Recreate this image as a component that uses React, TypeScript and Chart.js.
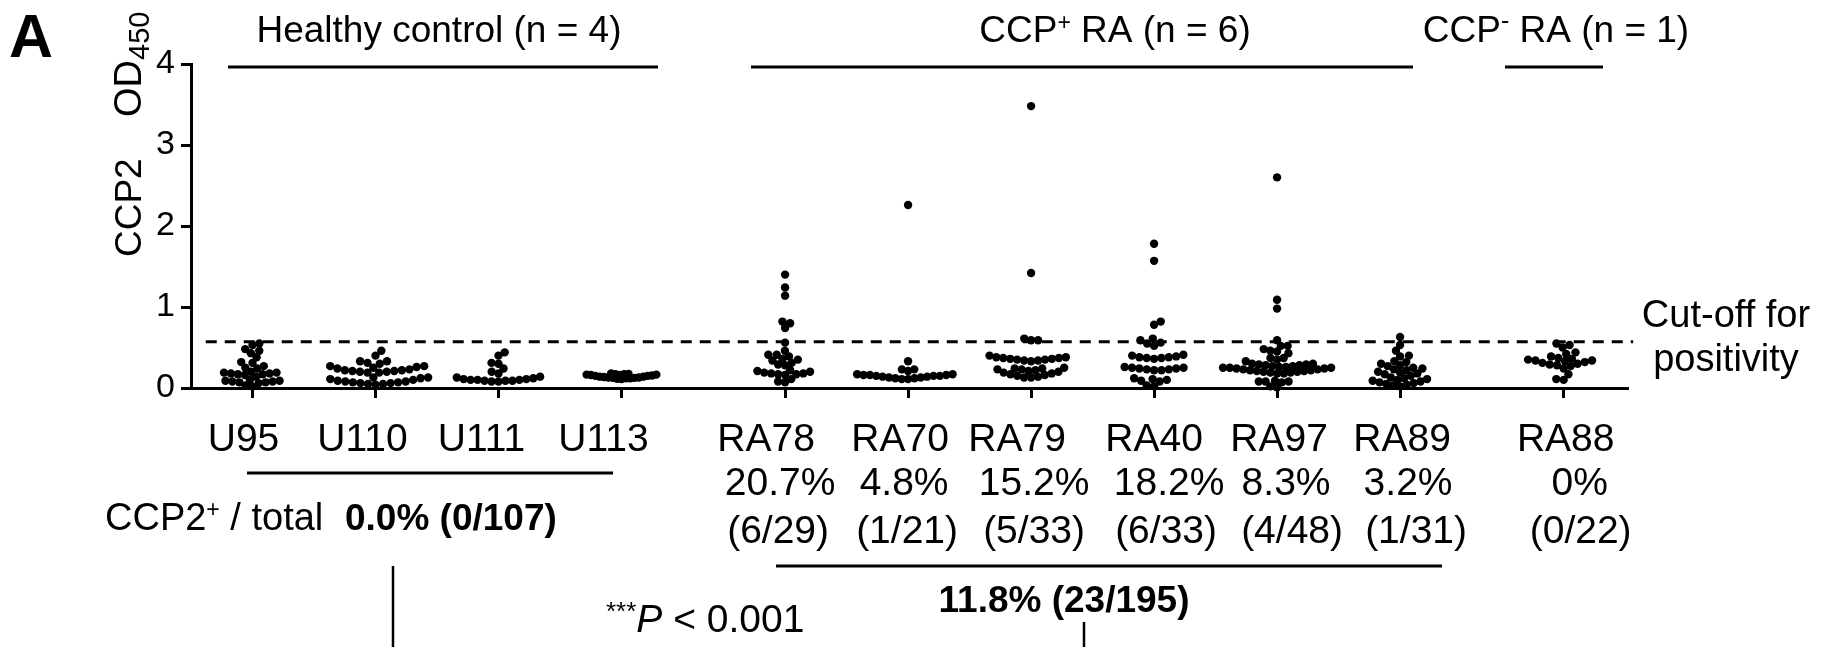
import React, { useEffect, useRef } from "react";
import { Chart, registerables } from "chart.js";

Chart.register(...registerables);

// ---------------- data ----------------
const CATEGORIES = ["U95", "U110", "U111", "U113", "RA78", "RA70", "RA79", "RA40", "RA97", "RA89", "RA88"];
const CATEGORY_GROUP = [0, 0, 0, 0, 1, 1, 1, 1, 1, 1, 2];
const GROUP_TITLES = ["Healthy control (n = 4)", "CCP+ RA (n = 6)", "CCP- RA (n = 1)"];
const PERCENT_LABELS = ["", "", "", "", "20.7%", "4.8%", "15.2%", "18.2%", "8.3%", "3.2%", "0%"];
const FRACTION_LABELS = ["", "", "", "", "(6/29)", "(1/21)", "(5/33)", "(6/33)", "(4/48)", "(1/31)", "(0/22)"];
const HEALTHY_TOTAL = "0.0% (0/107)";
const RA_TOTAL = "11.8% (23/195)";
const P_VALUE = "< 0.001";
const Y_TICKS = [0, 1, 2, 3, 4];
const CUTOFF = 0.57;

const U95 = [0.55, 0.53, 0.48, 0.46, 0.43, 0.38, 0.32, 0.31, 0.27, 0.25, 0.24, 0.2, 0.19, 0.19, 0.18, 0.18, 0.17, 0.17, 0.16, 0.14, 0.1, 0.09, 0.09, 0.08, 0.08, 0.07, 0.07, 0.06, 0.03, 0.02];
const U110 = [0.46, 0.4, 0.33, 0.33, 0.31, 0.3, 0.27, 0.27, 0.26, 0.25, 0.24, 0.23, 0.22, 0.22, 0.21, 0.21, 0.2, 0.2, 0.19, 0.19, 0.13, 0.13, 0.12, 0.11, 0.1, 0.09, 0.08, 0.08, 0.07, 0.07, 0.06, 0.06, 0.05, 0.05, 0.04];
const U111 = [0.44, 0.4, 0.31, 0.3, 0.24, 0.2, 0.18, 0.14, 0.13, 0.12, 0.11, 0.11, 0.1, 0.1, 0.1, 0.09, 0.09, 0.09, 0.08, 0.08];
const U113 = [0.18, 0.175, 0.17, 0.17, 0.165, 0.165, 0.16, 0.16, 0.155, 0.15, 0.15, 0.14, 0.14, 0.135, 0.13, 0.13, 0.125, 0.125, 0.12, 0.12, 0.115, 0.11];
const RA78 = [1.4, 1.24, 1.14, 0.82, 0.8, 0.74, 0.56, 0.46, 0.41, 0.41, 0.39, 0.36, 0.35, 0.34, 0.31, 0.29, 0.28, 0.22, 0.21, 0.2, 0.19, 0.18, 0.18, 0.17, 0.17, 0.16, 0.11, 0.08, 0.07];
const RA70 = [2.26, 0.33, 0.23, 0.23, 0.21, 0.17, 0.17, 0.16, 0.16, 0.16, 0.15, 0.15, 0.15, 0.14, 0.14, 0.13, 0.13, 0.12, 0.12, 0.11, 0.11];
const RA79 = [3.48, 1.42, 0.61, 0.59, 0.59, 0.4, 0.38, 0.38, 0.37, 0.37, 0.36, 0.36, 0.35, 0.35, 0.34, 0.34, 0.33, 0.25, 0.24, 0.24, 0.23, 0.23, 0.22, 0.21, 0.2, 0.19, 0.18, 0.17, 0.16, 0.15, 0.14, 0.13, 0.13];
const RA40 = [1.78, 1.57, 0.82, 0.78, 0.61, 0.59, 0.56, 0.55, 0.52, 0.41, 0.4, 0.39, 0.38, 0.38, 0.37, 0.37, 0.36, 0.26, 0.25, 0.25, 0.24, 0.24, 0.23, 0.23, 0.22, 0.22, 0.12, 0.11, 0.1, 0.09, 0.08, 0.03, 0.02];
const RA97 = [2.6, 1.09, 0.98, 0.59, 0.52, 0.52, 0.48, 0.46, 0.45, 0.43, 0.37, 0.37, 0.35, 0.33, 0.3, 0.3, 0.29, 0.29, 0.28, 0.28, 0.27, 0.27, 0.26, 0.26, 0.25, 0.25, 0.25, 0.24, 0.24, 0.23, 0.23, 0.22, 0.22, 0.21, 0.21, 0.2, 0.2, 0.19, 0.19, 0.18, 0.18, 0.09, 0.08, 0.08, 0.08, 0.07, 0.02, 0.01];
const RA89 = [0.63, 0.53, 0.46, 0.4, 0.39, 0.33, 0.32, 0.3, 0.28, 0.27, 0.25, 0.24, 0.23, 0.22, 0.2, 0.19, 0.18, 0.17, 0.15, 0.13, 0.12, 0.11, 0.1, 0.09, 0.08, 0.07, 0.06, 0.05, 0.04, 0.03, 0.02];
const RA88 = [0.55, 0.53, 0.5, 0.44, 0.42, 0.39, 0.37, 0.36, 0.35, 0.34, 0.34, 0.33, 0.32, 0.31, 0.3, 0.29, 0.28, 0.27, 0.24, 0.17, 0.11, 0.1];

const SERIES = [U95, U110, U111, U113, RA78, RA70, RA79, RA40, RA97, RA89, RA88];

// ---------------- layout / style ----------------
const W = 1830;
const H = 647;
const AREA_LEFT = 191;
const AREA_RIGHT = 1627;
const AREA_TOP = 64;
const AREA_BOTTOM = 388;
const X_MIN = -0.5;
const X_MAX = 11.175;
const GROUP_GAP = 0.33;
const FONT = '"Liberation Sans", Arial, Helvetica, sans-serif';
const DOT_R = 4.2;
// spacing of the swarm dots per category (px between dot centres)
const SWARM_SPACING = [7.0, 7.6, 7.0, 4.4, 7.0, 6.4, 7.0, 7.4, 6.8, 7.0, 7.4];
// horizontal nudges (px) of the label rows, as placed in the original figure
const NAME_NUDGE = [-9, -13, -17, -18, -19, -8, -14, 0, 2, 2, 2];
const PCT_NUDGE = [0, 0, 0, 0, -5, -4, 3, 15, 9, 8, 16];
const FRAC_NUDGE = [0, 0, 0, 0, -7, -1, 3, 12, 15, 16, 17];

const catPos = CATEGORIES.map((_, i) => i + CATEGORY_GROUP[i] * GROUP_GAP);
const xPxPerUnit = (AREA_RIGHT - AREA_LEFT) / (X_MAX - X_MIN);
const yPxPerUnit = (AREA_BOTTOM - AREA_TOP) / 4;

function swarm(values: number[], D: number): { v: number; dx: number }[] {
  const sorted = [...values].sort((a, b) => a - b);
  const placed: { x: number; y: number }[] = [];
  const out: { v: number; dx: number }[] = [];
  let lastSide = 1;
  for (const v of sorted) {
    const y = v * yPxPerUnit;
    const cands = [0];
    for (const p of placed) {
      const dy = Math.abs(p.y - y);
      if (dy < D) {
        const dx = Math.sqrt(D * D - dy * dy);
        cands.push(p.x + dx, p.x - dx);
      }
    }
    const ok = cands.filter((c) =>
      placed.every((p) => (p.x - c) ** 2 + (p.y - y) ** 2 >= D * D - 0.01)
    );
    ok.sort((a, b) => {
      const d = Math.abs(a) - Math.abs(b);
      if (Math.abs(d) > 0.01) return d;
      return b * -lastSide - a * -lastSide;
    });
    const best = ok.length ? ok[0] : 0;
    if (best !== 0) lastSide = Math.sign(best);
    placed.push({ x: best, y });
    out.push({ v, dx: best });
  }
  return out;
}

type Part = { text: string; font: string; dy?: number };

function drawRich(ctx: CanvasRenderingContext2D, parts: Part[], x: number, y: number, align: "left" | "center" | "right") {
  const widths = parts.map((p) => {
    ctx.font = p.font;
    return ctx.measureText(p.text).width;
  });
  const total = widths.reduce((a, b) => a + b, 0);
  let cx = align === "center" ? x - total / 2 : align === "right" ? x - total : x;
  ctx.textAlign = "left";
  ctx.textBaseline = "alphabetic";
  parts.forEach((p, i) => {
    ctx.font = p.font;
    ctx.fillText(p.text, cx, y + (p.dy || 0));
    cx += widths[i];
  });
}

function hline(ctx: CanvasRenderingContext2D, x1: number, x2: number, y: number, w = 3) {
  ctx.beginPath();
  ctx.lineWidth = w;
  ctx.moveTo(x1, y);
  ctx.lineTo(x2, y);
  ctx.stroke();
}
function vline(ctx: CanvasRenderingContext2D, x: number, y1: number, y2: number, w = 2.5) {
  ctx.beginPath();
  ctx.lineWidth = w;
  ctx.moveTo(x, y1);
  ctx.lineTo(x, y2);
  ctx.stroke();
}

const f = (size: number, weight = "normal", style = "normal") => `${style} ${weight} ${size}px ${FONT}`;

const annotations = {
  id: "annotations",
  afterDraw(chart: any) {
    const ctx: CanvasRenderingContext2D = chart.ctx;
    const xs = chart.scales.x;
    ctx.save();
    ctx.fillStyle = "#000";
    ctx.strokeStyle = "#000";

    // panel letter
    drawRich(ctx, [{ text: "A", font: f(61, "bold") }], 9, 57, "left");

    // group titles
    drawRich(ctx, [{ text: GROUP_TITLES[0], font: f(37) }], 439, 42, "center");
    drawRich(ctx, [
      { text: "CCP", font: f(37) },
      { text: "+", font: f(23), dy: -12 },
      { text: " RA (n = 6)", font: f(37) },
    ], 1115, 42, "center");
    drawRich(ctx, [
      { text: "CCP", font: f(37) },
      { text: "-", font: f(25), dy: -13 },
      { text: " RA (n = 1)", font: f(37) },
    ], 1556, 42, "center");
    hline(ctx, 228, 658, 67);
    hline(ctx, 751, 1413, 67);
    hline(ctx, 1505, 1603, 67);

    // y-axis title (rotated)
    ctx.save();
    ctx.translate(141, 257);
    ctx.rotate(-Math.PI / 2);
    drawRich(ctx, [{ text: "CCP2", font: f(37) }], 0, 0, "left");
    drawRich(ctx, [
      { text: "OD", font: f(38) },
      { text: "450", font: f(29), dy: 8 },
    ], 140, 0, "left");
    ctx.restore();

    // cut-off legend text
    drawRich(ctx, [{ text: "Cut-off for", font: f(38) }], 1726, 327, "center");
    drawRich(ctx, [{ text: "positivity", font: f(38) }], 1726, 371, "center");

    // category labels
    CATEGORIES.forEach((c, i) => {
      const px = xs.getPixelForValue(catPos[i]);
      drawRich(ctx, [{ text: c, font: f(39) }], px + NAME_NUDGE[i], 451, "center");
      if (PERCENT_LABELS[i]) drawRich(ctx, [{ text: PERCENT_LABELS[i], font: f(39) }], px + PCT_NUDGE[i], 495, "center");
      if (FRACTION_LABELS[i]) drawRich(ctx, [{ text: FRACTION_LABELS[i], font: f(39) }], px + FRAC_NUDGE[i], 543, "center");
    });

    // healthy summary
    hline(ctx, 247, 613, 473);
    drawRich(ctx, [
      { text: "CCP2", font: f(38) },
      { text: "+", font: f(23), dy: -13 },
      { text: " / total", font: f(38) },
    ], 105, 530, "left");
    drawRich(ctx, [{ text: HEALTHY_TOTAL, font: f(37, "bold") }], 345, 530, "left");

    // RA summary
    hline(ctx, 776, 1442, 566);
    drawRich(ctx, [{ text: RA_TOTAL, font: f(37, "bold") }], 1064, 612, "center");

    // p-value
    drawRich(ctx, [
      { text: "***", font: f(26), dy: -12 },
      { text: "P", font: f(39, "normal", "italic") },
      { text: " " + P_VALUE, font: f(39) },
    ], 606, 632, "left");
    vline(ctx, 393, 566, H);
    vline(ctx, 1084, 622, H);

    ctx.restore();
  },
};

export default function App() {
  const ref = useRef<HTMLCanvasElement | null>(null);
  useEffect(() => {
    if (!ref.current) return;
    const datasets: any[] = SERIES.map((vals, i) => ({
      type: "scatter",
      label: CATEGORIES[i],
      data: swarm(vals, SWARM_SPACING[i]).map((p) => ({ x: catPos[i] + p.dx / xPxPerUnit, y: p.v })),
      backgroundColor: "#000",
      borderWidth: 0,
      pointRadius: DOT_R,
      pointHoverRadius: DOT_R,
      clip: false,
    }));
    datasets.push({
      type: "line",
      label: "cutoff",
      data: [
        { x: X_MIN + 0.12, y: CUTOFF },
        { x: X_MAX + 0.05, y: CUTOFF },
      ],
      borderColor: "#000",
      borderWidth: 3,
      borderDash: [11, 8],
      pointRadius: 0,
      fill: false,
      clip: false,
    });

    const chart = new Chart(ref.current, {
      type: "scatter",
      data: { datasets },
      options: {
        animation: false,
        responsive: false,
        maintainAspectRatio: false,
        events: [],
        layout: { padding: { left: 0, right: W - AREA_RIGHT, top: AREA_TOP, bottom: 0 } },
        plugins: { legend: { display: false }, tooltip: { enabled: false } },
        scales: {
          x: {
            type: "linear",
            min: X_MIN,
            max: X_MAX,
            afterBuildTicks: (s: any) => {
              s.ticks = catPos.map((v) => ({ value: v }));
            },
            afterFit: (s: any) => {
              s.height = H - AREA_BOTTOM;
            },
            ticks: { display: false },
            grid: { drawOnChartArea: false, drawTicks: true, tickLength: 10, color: "#000", lineWidth: 3 },
            border: { display: true, color: "#000", width: 3 },
          },
          y: {
            type: "linear",
            min: 0,
            max: 4,
            afterBuildTicks: (s: any) => {
              s.ticks = Y_TICKS.map((v) => ({ value: v }));
            },
            afterFit: (s: any) => {
              s.width = AREA_LEFT;
            },
            ticks: { color: "#000", font: { size: 34, family: FONT }, padding: 6 },
            grid: { drawOnChartArea: false, drawTicks: true, tickLength: 10, color: "#000", lineWidth: 3 },
            border: { display: true, color: "#000", width: 3 },
          },
        },
      },
      plugins: [annotations],
    } as any);
    return () => chart.destroy();
  }, []);

  return (
    <div style={{ position: "absolute", left: 0, top: 0, width: W, height: H, background: "#fff" }}>
      <canvas ref={ref} width={W} height={H} style={{ display: "block", width: W, height: H }} />
    </div>
  );
}
